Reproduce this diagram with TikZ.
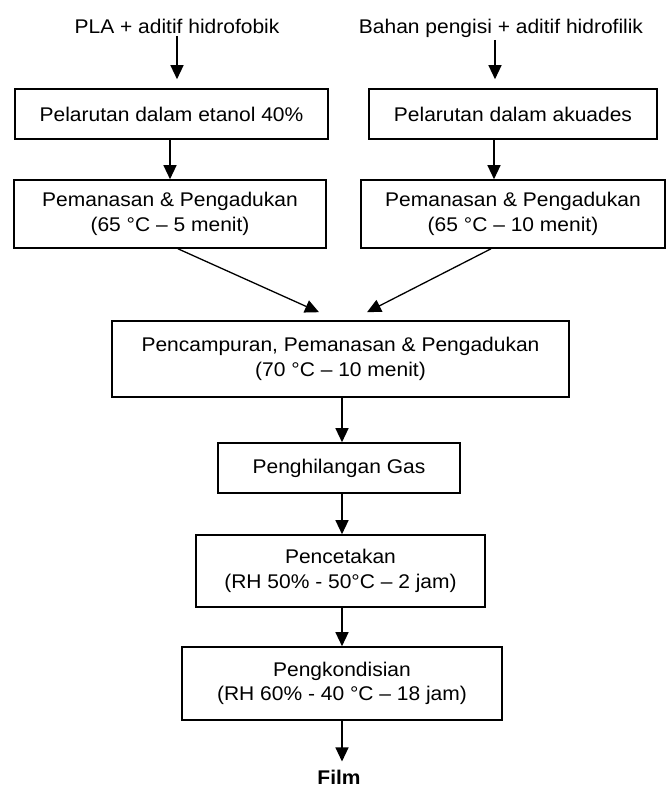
\documentclass[tikz,border=0pt]{standalone}
\usepackage{fontspec}
\setmainfont{Liberation Sans}[FakeStretch=1.06]
\usetikzlibrary{arrows.meta,calc}
\begin{document}
\begin{tikzpicture}[x=1pt,y=-1pt,
  every node/.style={font=\fontsize{19.8pt}{24.5pt}\selectfont},
  box/.style={draw,line width=1.6pt,rectangle,align=center,inner sep=0pt},
  lbl/.style={anchor=base,inner sep=2pt},
  arr/.style={line width=1.3pt,-{Triangle[length=14pt,width=13pt]}}]
\useasboundingbox (0,0) rectangle (670,789);
% titles
\node[lbl] (t1) at (177,33.5) {PLA + aditif hidrofobik};
\node[lbl] (t2) at (501,33.5) {Bahan pengisi + aditif hidrofilik};
% boxes
\node[box,minimum width=313pt,minimum height=50pt] (b1) at (171.5,114) {Pelarutan dalam etanol 40\%};
\node[box,minimum width=288pt,minimum height=50pt] (b2) at (513,114) {Pelarutan dalam akuades};
\node[box,minimum width=312pt,minimum height=68pt] (b3) at (170,214) {Pemanasan \& Pengadukan\\(65 °C – 5 menit)};
\node[box,minimum width=304pt,minimum height=68pt] (b4) at (513,214) {Pemanasan \& Pengadukan\\(65 °C – 10 menit)};
\node[box,minimum width=457pt,minimum height=76pt] (b5) at (340.5,359) {Pencampuran, Pemanasan \& Pengadukan\\(70 °C – 10 menit)};
\node[box,minimum width=242pt,minimum height=50pt] (b6) at (339,468) {Penghilangan Gas};
\node[box,minimum width=289pt,minimum height=72pt] (b7) at (340.5,571) {Pencetakan\\(RH 50\% - 50°C – 2 jam)};
\node[box,minimum width=320pt,minimum height=73pt] (b8) at (342,683.5) {Pengkondisian\\(RH 60\% - 40 °C – 18 jam)};
\node[lbl,inner sep=0pt,font=\fontsize{19.8pt}{24.5pt}\selectfont\bfseries] (film) at (339,784) {Film};
% connectors
\draw[arr] (t1.south) -- ($(t1.south |- b1.north)+(0,-9)$);
\draw[arr] ($(t2.south)+(-6,0)$) -- ($(t2.south |- b2.north)+(-6,-9)$);
\draw[arr] (b3.north |- b1.south) -- (b3.north);
\draw[arr] ($(b2.south)+(-19,0)$) -- ($(b4.north)+(-19,0)$);
\draw[arr] ($(b3.south)+(8,0)$) -- ($(b5.north)+(-21.5,-8)$);
\draw[arr] ($(b4.south)+(-22,0)$) -- ($(b5.north)+(26.5,-8)$);
\draw[arr] (b5.south -| b8.north) -- (b6.north -| b8.north);
\draw[arr] (b6.south -| b8.north) -- (b7.north -| b8.north);
\draw[arr] (b7.south -| b8.north) -- (b8.north);
\draw[arr] (b8.south) -- ($(film.north -| b8.south)+(0,-8)$);
\end{tikzpicture}
\end{document}
